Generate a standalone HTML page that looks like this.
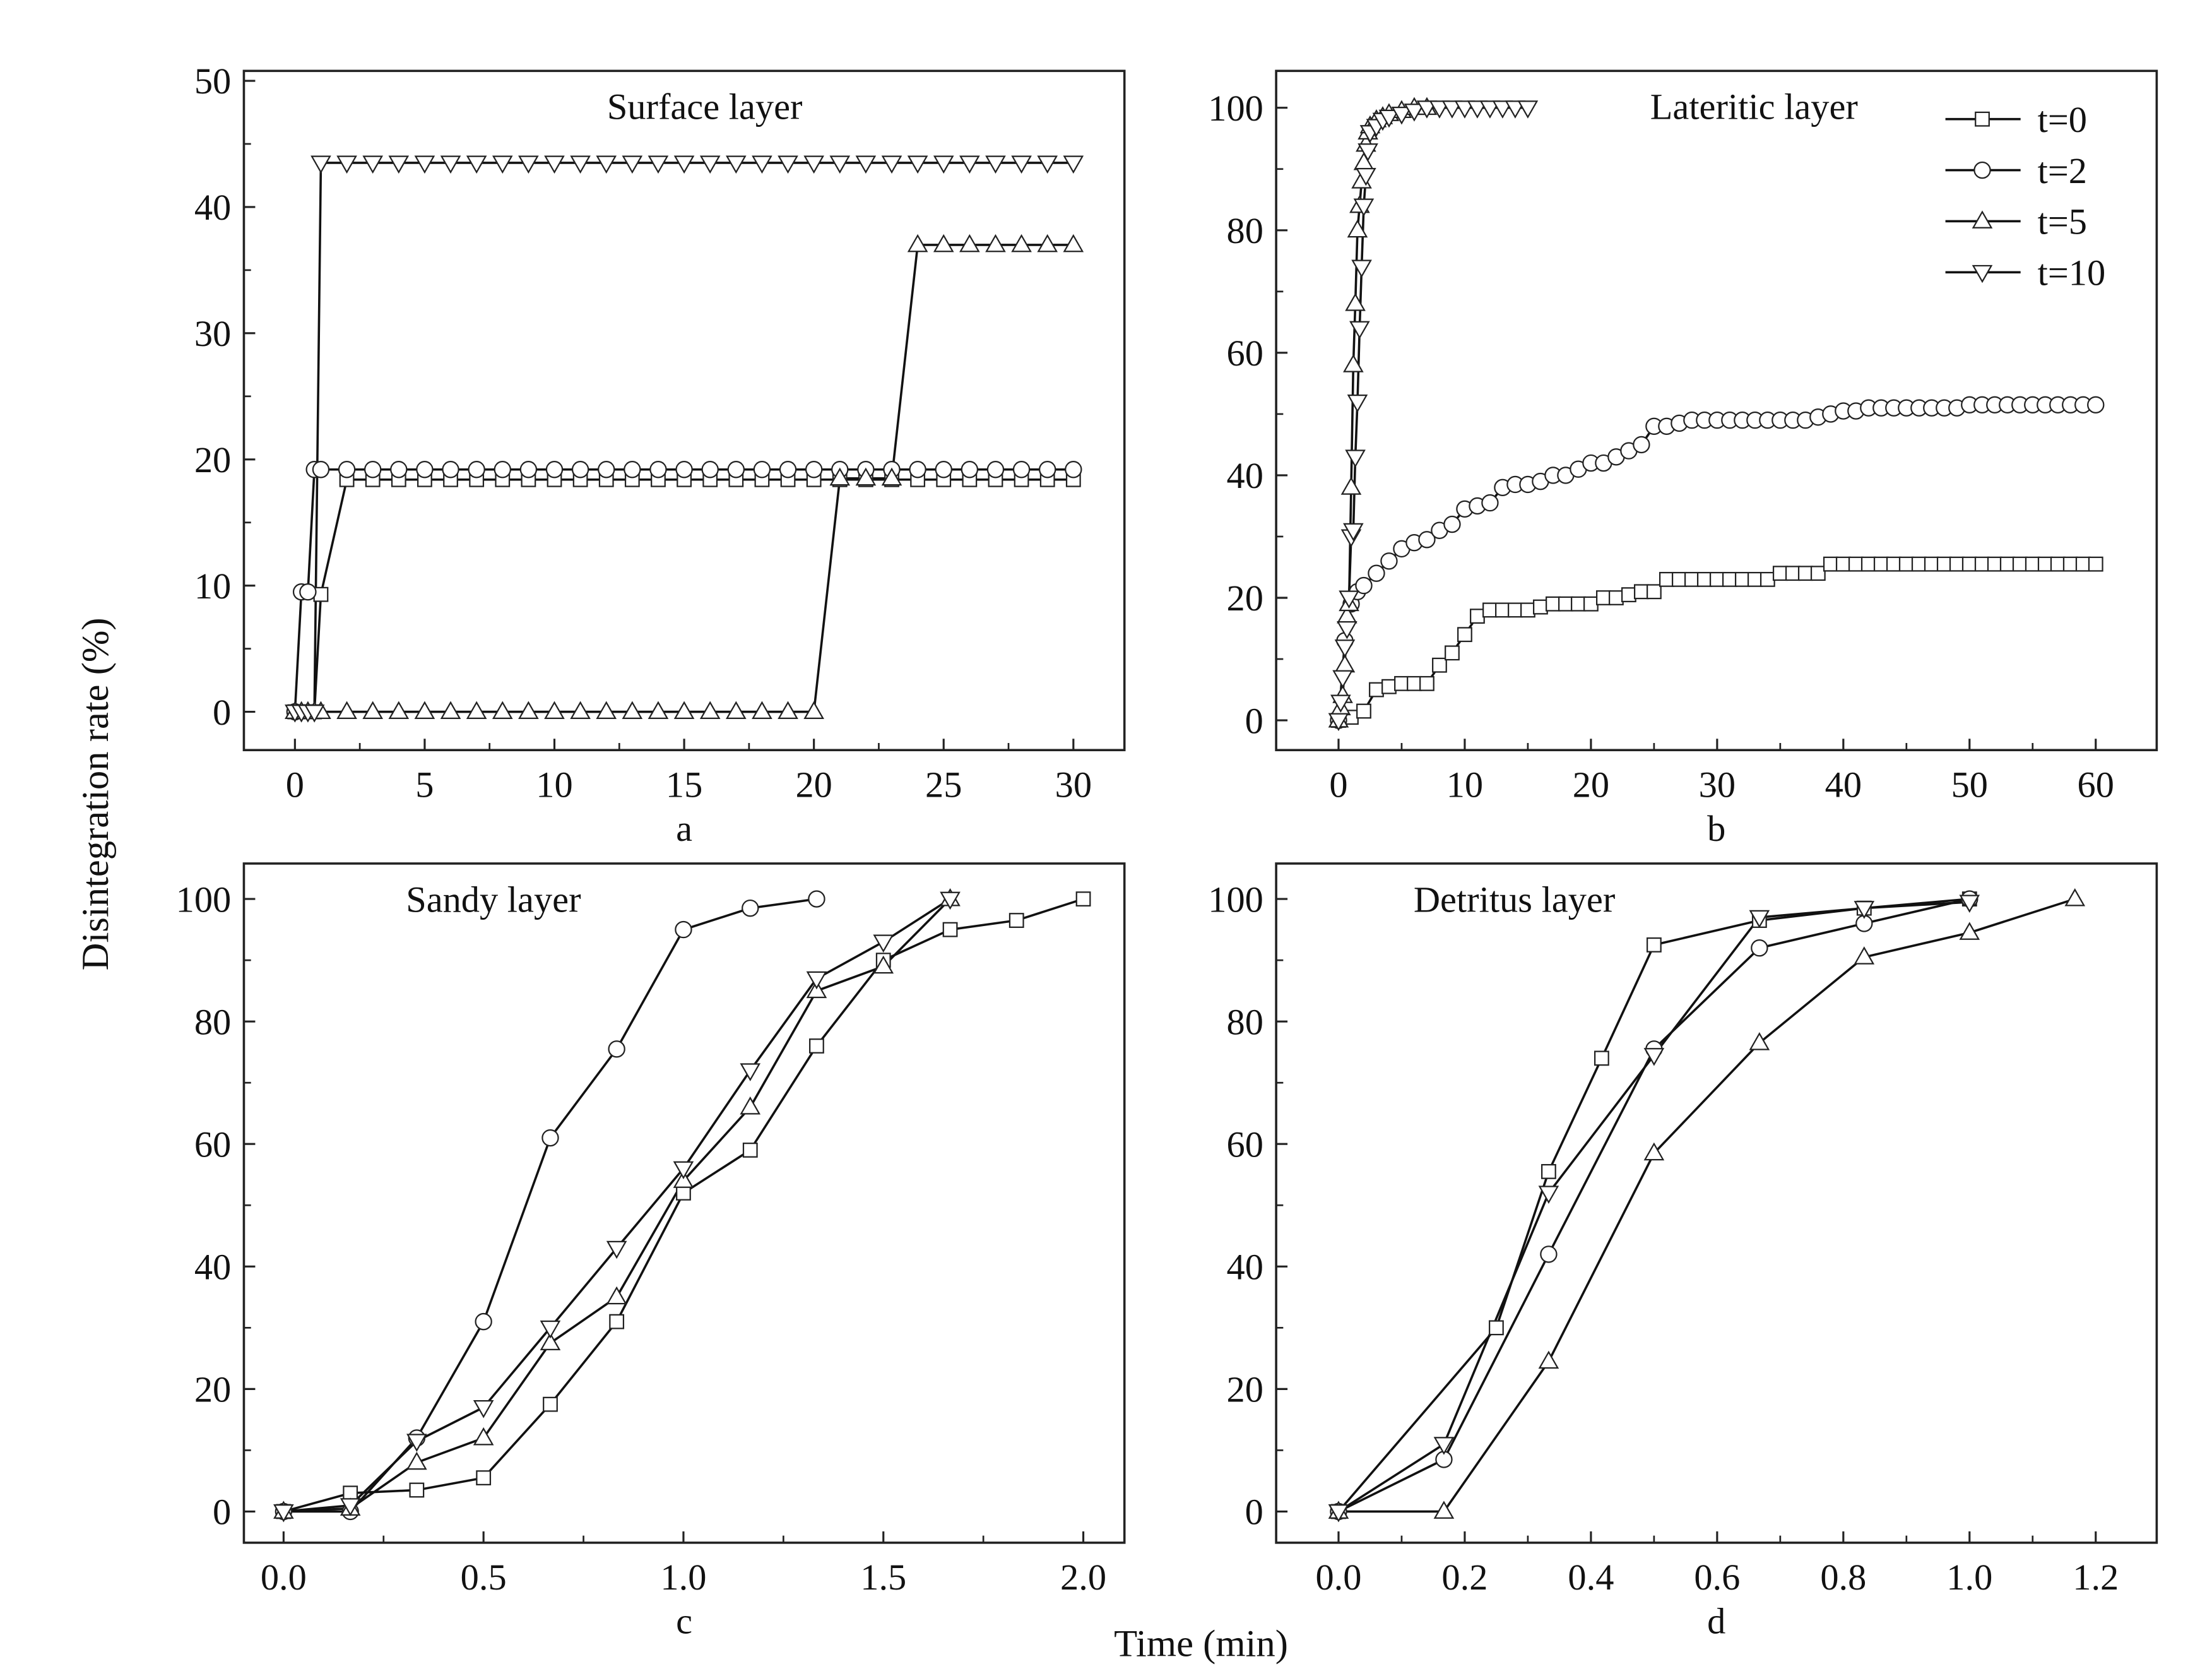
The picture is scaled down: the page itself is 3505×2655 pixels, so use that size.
<!DOCTYPE html>
<html><head><meta charset="utf-8"><style>
html,body{margin:0;padding:0;background:#fff}
svg{display:block}
text{font-family:"Liberation Serif",serif;fill:#111}
</style></head><body>
<svg id="fig" width="3505" height="2655" viewBox="0 0 1560 1182" preserveAspectRatio="none" xmlns="http://www.w3.org/2000/svg">
<rect width="1560" height="1182" fill="#fff"/>
<text x="0" y="0" font-size="27" text-anchor="middle" transform="translate(76,560) rotate(-90)">Disintegration rate (%)</text>
<text x="847" y="1168" font-size="27" text-anchor="middle">Time (min)</text>
</svg>
<script>
// Panel a (Surface layer)
const aX0=[0,0.25,0.5,0.75,1,2,3,4,5,6,7,8,9,10,11,12,13,14,15,16,17,18,19,20,21,22,23,24,25,26,27,28,29,30];
const aT0=[0,0,0,0,9.3,18.4,18.4,18.4,18.4,18.4,18.4,18.4,18.4,18.4,18.4,18.4,18.4,18.4,18.4,18.4,18.4,18.4,18.4,18.4,18.4,18.4,18.4,18.4,18.4,18.4,18.4,18.4,18.4,18.4];
const aX2=[0,0.25,0.5,0.75,1,2,3,4,5,6,7,8,9,10,11,12,13,14,15,16,17,18,19,20,21,22,23,24,25,26,27,28,29,30];
const aT2=[0,9.5,9.5,19.2,19.2,19.2,19.2,19.2,19.2,19.2,19.2,19.2,19.2,19.2,19.2,19.2,19.2,19.2,19.2,19.2,19.2,19.2,19.2,19.2,19.2,19.2,19.2,19.2,19.2,19.2,19.2,19.2,19.2,19.2];
const aX5=[0,0.25,0.5,0.75,1,2,3,4,5,6,7,8,9,10,11,12,13,14,15,16,17,18,19,20,21,22,23,24,25,26,27,28,29,30];
const aT5=[0,0,0,0,0,0,0,0,0,0,0,0,0,0,0,0,0,0,0,0,0,0,0,0,18.5,18.5,18.5,37,37,37,37,37,37,37];
const aX10=[0,0.25,0.5,0.75,1,2,3,4,5,6,7,8,9,10,11,12,13,14,15,16,17,18,19,20,21,22,23,24,25,26,27,28,29,30];
const aT10=[0,0,0,0,43.5,43.5,43.5,43.5,43.5,43.5,43.5,43.5,43.5,43.5,43.5,43.5,43.5,43.5,43.5,43.5,43.5,43.5,43.5,43.5,43.5,43.5,43.5,43.5,43.5,43.5,43.5,43.5,43.5,43.5];
// Panel b (Lateritic layer)
const bX0=[0,1,2,3,4,5,6,7,8,9,10,11,12,13,14,15,16,17,18,19,20,21,22,23,24,25,26,27,28,29,30,31,32,33,34,35,36,37,38,39,40,41,42,43,44,45,46,47,48,49,50,51,52,53,54,55,56,57,58,59,60];
const bT0=[0,0.5,1.5,5,5.5,6,6,6,9,11,14,17,18,18,18,18,18.5,19,19,19,19,20,20,20.5,21,21,23,23,23,23,23,23,23,23,23,24,24,24,24,25.5,25.5,25.5,25.5,25.5,25.5,25.5,25.5,25.5,25.5,25.5,25.5,25.5,25.5,25.5,25.5,25.5,25.5,25.5,25.5,25.5,25.5];
const bX2=[0,0.5,1,1.5,2,3,4,5,6,7,8,9,10,11,12,13,14,15,16,17,18,19,20,21,22,23,24,25,26,27,28,29,30,31,32,33,34,35,36,37,38,39,40,41,42,43,44,45,46,47,48,49,50,51,52,53,54,55,56,57,58,59,60];
const bT2=[0,13,19,21,22,24,26,28,29,29.5,31,32,34.5,35,35.5,38,38.5,38.5,39,40,40,41,42,42,43,44,45,48,48,48.5,49,49,49,49,49,49,49,49,49,49,49.5,50,50.5,50.5,51,51,51,51,51,51,51,51,51.5,51.5,51.5,51.5,51.5,51.5,51.5,51.5,51.5,51.5,51.5];
const bX5=[0,0.17,0.33,0.5,0.67,0.83,1,1.17,1.33,1.5,1.67,1.83,2,2.17,2.33,2.5,3,3.5,4,5,6,7];
const bT5=[0,2,4,9,17,19,38,58,68,80,84,88,91,94,96,97,98,98.5,99,99.5,100,100];
const bX10=[0,0.17,0.33,0.5,0.67,0.83,1,1.17,1.33,1.5,1.67,1.83,2,2.17,2.33,2.5,3,3.5,4,5,6,7,8,9,10,11,12,13,14,15];
const bT10=[0,3,7,12,15,20,30,31,43,52,64,74,84,89,93,96,97,98,98.5,99,99.5,100,100,100,100,100,100,100,100,100];
// Panel c (Sandy layer)
const cX0=[0,0.167,0.333,0.5,0.667,0.833,1,1.167,1.333,1.5,1.667,1.833,2];
const cT0=[0,3,3.5,5.5,17.5,31,52,59,76,90,95,96.5,100];
const cX2=[0,0.167,0.333,0.5,0.667,0.833,1,1.167,1.333];
const cT2=[0,0,12,31,61,75.5,95,98.5,100];
const cX5=[0,0.167,0.333,0.5,0.667,0.833,1,1.167,1.333,1.5,1.667];
const cT5=[0,0.5,8,12,27.5,35,54,66,85,89,100];
const cX10=[0,0.167,0.333,0.5,0.667,0.833,1,1.167,1.333,1.5,1.667];
const cT10=[0,1,11.5,17,30,43,56,72,87,93,100];
// Panel d (Detritus layer)
const dX0=[0,0.25,0.333,0.417,0.5,0.667,0.833,1];
const dT0=[0,30,55.5,74,92.5,96.5,98.5,100];
const dX2=[0,0.167,0.333,0.5,0.667,0.833,1];
const dT2=[0,8.5,42,75.5,92,96,100];
const dX5=[0,0.167,0.333,0.5,0.667,0.833,1,1.167];
const dT5=[0,0,24.5,58.5,76.5,90.5,94.5,100];
const dX10=[0,0.167,0.333,0.5,0.667,0.833,1];
const dT10=[0,11,52,74.5,97,98.5,99.5];
// tick labels
const aXTicks=[0,5,10,15,20,25,30], aYTicks=[0,10,20,30,40,50];
const bXTicks=[0,10,20,30,40,50,60], bYTicks=[0,20,40,60,80,100];
const cXTicks=[0,0.5,1.0,1.5,2.0], cYTicks=[0,20,40,60,80,100];
const dXTicks=[0,0.2,0.4,0.6,0.8,1.0,1.2], dYTicks=[0,20,40,60,80,100];

const NS='http://www.w3.org/2000/svg';
const svg=document.getElementById('fig');
function mk(tag,attrs,parent){const e=document.createElementNS(NS,tag);for(const k in attrs)e.setAttribute(k,attrs[k]);(parent||svg).appendChild(e);return e;}

function marker(g,type,x,y){
  const s=5.6;let e;
  if(type==='sq'){e=mk('rect',{x:x-s+0.8,y:y-s+0.8,width:2*s-1.6,height:2*s-1.6,fill:'#fff',stroke:'#222','stroke-width':1},g);}
  else if(type==='ci'){e=mk('circle',{cx:x,cy:y,r:s,fill:'#fff',stroke:'#222','stroke-width':1},g);}
  else if(type==='up'){e=mk('polygon',{points:`${x},${y-s-1} ${x-s-0.8},${y+s-1} ${x+s+0.8},${y+s-1}`,fill:'#fff',stroke:'#222','stroke-width':1},g);}
  else {e=mk('polygon',{points:`${x},${y+s+1} ${x-s-0.8},${y-s+1} ${x+s+0.8},${y-s+1}`,fill:'#fff',stroke:'#222','stroke-width':1},g);}
  
  
}

function panel(cfg){
  const g=mk('g',{});
  
  
  const sx=v=>cfg.px0+(v-cfg.vx0)*(cfg.px1-cfg.px0)/(cfg.vx1-cfg.vx0);
  const sy=v=>cfg.py0+(v-cfg.vy0)*(cfg.py1-cfg.py0)/(cfg.vy1-cfg.vy0);
  const F=cfg.frame;
  const fr=mk('rect',{x:F[0],y:F[1],width:F[2]-F[0],height:F[3]-F[1],fill:'none',stroke:'#222','stroke-width':1.6},g);
  
  
  // x ticks
  const xt=cfg.xticks;
  for(let i=0;i<xt.length;i++){
    const x=sx(xt[i]);
    mk('line',{x1:x,y1:F[3],x2:x,y2:F[3]-8,stroke:'#222','stroke-width':1.4},g);
    const t=mk('text',{x:x,y:F[3]+33,'font-size':26,'text-anchor':'middle'},g);
    t.textContent=cfg.xfmt(xt[i]);
    
    
    if(i<xt.length-1){const xm=sx((xt[i]+xt[i+1])/2);mk('line',{x1:xm,y1:F[3],x2:xm,y2:F[3]-5,stroke:'#222','stroke-width':1.2},g);}
  }
  const yt=cfg.yticks;
  for(let i=0;i<yt.length;i++){
    const y=sy(yt[i]);
    mk('line',{x1:F[0],y1:y,x2:F[0]+8,y2:y,stroke:'#222','stroke-width':1.4},g);
    const t=mk('text',{x:F[0]-9,y:y+9,'font-size':26,'text-anchor':'end'},g);
    t.textContent=String(yt[i]);
    
    
    if(i<yt.length-1){const ym=sy((yt[i]+yt[i+1])/2);mk('line',{x1:F[0],y1:ym,x2:F[0]+5,y2:ym,stroke:'#222','stroke-width':1.2},g);}
  }
  const tt=mk('text',{x:cfg.titleX,y:cfg.titleY,'font-size':26,'text-anchor':cfg.titleAnchor||'start'},g);
  tt.textContent=cfg.title;
  
  
  const lt=mk('text',{x:(F[0]+F[2])/2,y:F[3]+64,'font-size':26,'text-anchor':'middle'},g);
  lt.textContent=cfg.letter;
  
  
  const types=['sq','ci','up','dn'];
  cfg.series.forEach((s,k)=>{
    const pts=s[0].map((x,i)=>sx(x).toFixed(2)+','+sy(s[1][i]).toFixed(2)).join(' ');
    const pl=mk('polyline',{points:pts,fill:'none',stroke:'#111','stroke-width':1.6},g);
    
    
  });
  cfg.series.forEach((s,k)=>{
    s[0].forEach((x,i)=>marker(g,types[k],sx(x),sy(s[1][i])));
  });
}

panel({name:'panel-a-surface',frame:[172,50,793,529],px0:208,px1:757,vx0:0,vx1:30,py0:502,py1:57,vy0:0,vy1:50,
  xticks:aXTicks,yticks:aYTicks,xfmt:v=>String(v),title:'Surface layer',titleX:497,titleY:84,titleAnchor:'middle',letter:'a',
  series:[[aX0,aT0],[aX2,aT2],[aX5,aT5],[aX10,aT10]]});
panel({name:'panel-b-lateritic',frame:[900,50,1521,529],px0:944,px1:1478,vx0:0,vx1:60,py0:508,py1:76,vy0:0,vy1:100,
  xticks:bXTicks,yticks:bYTicks,xfmt:v=>String(v),title:'Lateritic layer',titleX:1237,titleY:84,titleAnchor:'middle',letter:'b',
  series:[[bX0,bT0],[bX2,bT2],[bX5,bT5],[bX10,bT10]]});
panel({name:'panel-c-sandy',frame:[172,609,793,1088],px0:200,px1:764,vx0:0,vx1:2,py0:1066,py1:634,vy0:0,vy1:100,
  xticks:cXTicks,yticks:cYTicks,xfmt:v=>v.toFixed(1),title:'Sandy layer',titleX:348,titleY:643,titleAnchor:'middle',letter:'c',
  series:[[cX0,cT0],[cX2,cT2],[cX5,cT5],[cX10,cT10]]});
panel({name:'panel-d-detritus',frame:[900,609,1521,1088],px0:944,px1:1478,vx0:0,vx1:1.2,py0:1066,py1:634,vy0:0,vy1:100,
  xticks:dXTicks,yticks:dYTicks,xfmt:v=>v.toFixed(1),title:'Detritus layer',titleX:1068,titleY:643,titleAnchor:'middle',letter:'d',
  series:[[dX0,dT0],[dX2,dT2],[dX5,dT5],[dX10,dT10]]});

// legend
const legLabels=['t=0','t=2','t=5','t=10'];
const legTypes=['sq','ci','up','dn'];
const lg=mk('g',{});


legLabels.forEach((lab,i)=>{
  const y=84+i*36;
  mk('line',{x1:1372,y1:y,x2:1425,y2:y,stroke:'#111','stroke-width':1.6},lg);
  marker(lg,legTypes[i],1398,y);
  const t=mk('text',{x:1437,y:y+9,'font-size':26},lg);
  t.textContent=lab;
  
  
});
</script>
</body></html>
